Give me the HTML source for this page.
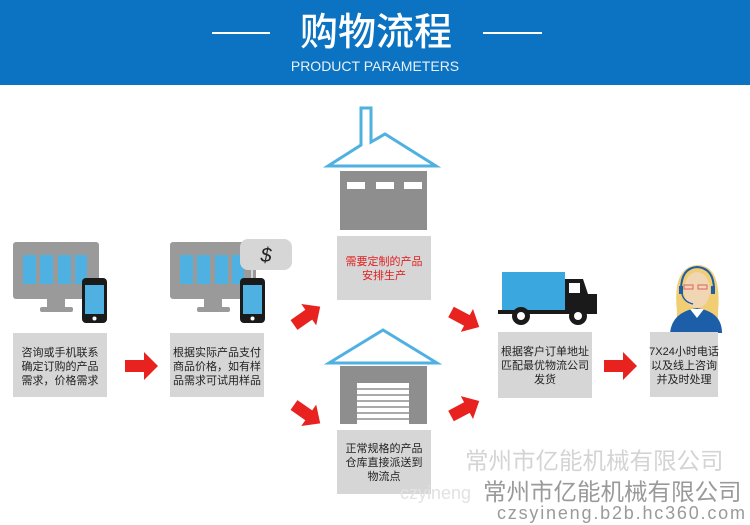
<!DOCTYPE html>
<html><head><meta charset="utf-8"><style>
body{margin:0;background:#fff;}
svg{display:block}
text{font-family:"Liberation Sans","Noto Sans CJK SC",sans-serif;}
.c{font-family:"Liberation Sans","Noto Sans CJK SC",sans-serif;font-size:11px;fill:#222;text-anchor:middle}
</style></head><body>
<svg width="750" height="525" viewBox="0 0 750 525" xmlns="http://www.w3.org/2000/svg">
<rect x="0" y="0" width="750" height="85" fill="#0b73c1"/>
<rect x="212" y="32" width="58" height="2" fill="#fff"/>
<rect x="483" y="32" width="59" height="2" fill="#fff"/>
<text x="376" y="45" font-size="38" fill="#fff" text-anchor="middle" font-weight="500" style="font-family:'Noto Sans CJK SC',sans-serif">购物流程</text>
<text x="375" y="71" font-size="14" fill="#e8f0f8" text-anchor="middle">PRODUCT PARAMETERS</text>

<!-- monitor 1 -->
<g>
<rect x="13" y="242" width="86" height="57" rx="3" fill="#9a9a9a"/>
<rect x="23" y="255" width="13" height="29" fill="#4fb0e2"/><rect x="40" y="255" width="13" height="29" fill="#4fb0e2"/><rect x="58" y="255" width="13" height="29" fill="#4fb0e2"/><rect x="75" y="255" width="12" height="29" fill="#4fb0e2"/>
<rect x="47" y="299" width="18" height="10" fill="#9a9a9a"/><rect x="40" y="307" width="33" height="5" rx="2" fill="#9a9a9a"/>
<rect x="82" y="278" width="25" height="45" rx="4" fill="#1a1a1a"/>
<rect x="85" y="285" width="19" height="29" fill="#4fb0e2"/><circle cx="94.5" cy="318.5" r="2" fill="#fff"/>
</g>
<!-- monitor 2 -->
<g>
<rect x="170" y="242" width="86" height="57" rx="3" fill="#9a9a9a"/>
<rect x="180" y="255" width="13" height="29" fill="#4fb0e2"/><rect x="197" y="255" width="13" height="29" fill="#4fb0e2"/><rect x="215" y="255" width="13" height="29" fill="#4fb0e2"/><rect x="232" y="255" width="12" height="29" fill="#4fb0e2"/>
<rect x="204" y="299" width="18" height="10" fill="#9a9a9a"/><rect x="197" y="307" width="33" height="5" rx="2" fill="#9a9a9a"/>
<rect x="240" y="239" width="52" height="31" rx="8" fill="#d6d6d6"/>
<text x="266" y="262" font-size="20" fill="#222" text-anchor="middle" font-style="italic">$</text>
<line x1="252" y1="270" x2="252" y2="279" stroke="#d6d6d6" stroke-width="2"/>
<rect x="240" y="278" width="25" height="45" rx="4" fill="#1a1a1a"/>
<rect x="243" y="285" width="19" height="29" fill="#4fb0e2"/><circle cx="252.5" cy="318.5" r="2" fill="#fff"/>
</g>

<!-- factory -->
<path d="M361 108 H371 V142 L385 134 L436 166 H328 L361 145 Z" fill="none" stroke="#4fb0e2" stroke-width="3"/>
<rect x="340" y="171" width="87" height="59" fill="#8e8e8e"/>
<rect x="347" y="182" width="18" height="7" fill="#fff"/><rect x="376" y="182" width="18" height="7" fill="#fff"/><rect x="404" y="182" width="18" height="7" fill="#fff"/>
<!-- warehouse -->
<path d="M329 363 L383 330 L437 363 Z" fill="none" stroke="#4fb0e2" stroke-width="3"/>
<rect x="340" y="366" width="87" height="58" fill="#8e8e8e"/>
<rect x="357" y="383" width="52" height="41" fill="#fff"/>
<g stroke="#8e8e8e" stroke-width="1.6"><line x1="357" y1="389" x2="409" y2="389"/><line x1="357" y1="395" x2="409" y2="395"/><line x1="357" y1="401" x2="409" y2="401"/><line x1="357" y1="407" x2="409" y2="407"/><line x1="357" y1="413" x2="409" y2="413"/><line x1="357" y1="419" x2="409" y2="419"/></g>

<!-- truck -->
<rect x="502" y="272" width="63" height="40" fill="#3aa8de"/>
<path d="M565 279 H583 L588 294 H597 V312 H565 Z" fill="#1a1a1a"/>
<rect x="569" y="283" width="11" height="10" fill="#fff"/>
<rect x="498" y="310" width="99" height="4" fill="#1a1a1a"/>
<circle cx="521" cy="316" r="9" fill="#1a1a1a"/><circle cx="521" cy="316" r="4" fill="#fff"/>
<circle cx="578" cy="316" r="9" fill="#1a1a1a"/><circle cx="578" cy="316" r="4" fill="#fff"/>

<!-- person -->
<path d="M677 312 Q672 266 698 265 Q722 266 718 312 L718 330 H676 Z" fill="#f1cd74"/>
<ellipse cx="697" cy="290" rx="13" ry="18" fill="#f0d6b3"/>
<path d="M670 333 Q672 312 697 308 Q722 312 722 333 Z" fill="#1d5ea8"/>
<path d="M690 309 L697 318 L704 309 Z" fill="#fff"/>
<path d="M681 290 Q681 268 697 267 Q714 268 714 290" fill="none" stroke="#1d5ea8" stroke-width="2"/>
<rect x="679" y="286" width="4" height="8" fill="#1d5ea8"/><rect x="711" y="286" width="4" height="8" fill="#1d5ea8"/>
<path d="M682 294 Q684 302 693 304" fill="none" stroke="#1d5ea8" stroke-width="1.5"/>
<rect x="684" y="285" width="9" height="4" fill="none" stroke="#e06060" stroke-width="1"/><rect x="698" y="285" width="9" height="4" fill="none" stroke="#e06060" stroke-width="1"/>

<!-- boxes -->
<rect x="13" y="333" width="94" height="64" fill="#d6d6d6"/>
<text class="c" x="60" y="356">咨询或手机联系</text><text class="c" x="60" y="370">确定订购的产品</text><text class="c" x="60" y="384">需求，价格需求</text>
<rect x="170" y="333" width="94" height="64" fill="#d6d6d6"/>
<text class="c" x="217" y="356">根据实际产品支付</text><text class="c" x="217" y="370">商品价格，如有样</text><text class="c" x="217" y="384">品需求可试用样品</text>
<rect x="337" y="236" width="94" height="64" fill="#d6d6d6"/>
<text class="c" x="384" y="265" style="fill:#e02020">需要定制的产品</text><text class="c" x="384" y="279" style="fill:#e02020">安排生产</text>
<rect x="337" y="430" width="94" height="64" fill="#d6d6d6"/>
<text class="c" x="384" y="452">正常规格的产品</text><text class="c" x="384" y="466">仓库直接派送到</text><text class="c" x="384" y="480">物流点</text>
<rect x="498" y="332" width="94" height="66" fill="#d6d6d6"/>
<text class="c" x="545" y="355">根据客户订单地址</text><text class="c" x="545" y="369">匹配最优物流公司</text><text class="c" x="545" y="383">发货</text>
<rect x="650" y="332" width="68" height="65" fill="#d6d6d6"/>
<text class="c" x="684" y="355">7X24小时电话</text><text class="c" x="684" y="369">以及线上咨询</text><text class="c" x="684" y="383">并及时处理</text>

<!-- arrows -->
<g fill="#e8231f">
<path d="M125 360 H144 V352 L158 366 L144 380 V372 H125 Z"/>
<path d="M604 360 H623 V352 L637 366 L623 380 V372 H604 Z"/>
<path d="M0 -6 H18 V-13 L32 0 L18 13 V6 H0 Z" transform="translate(294 325) rotate(-35)"/>
<path d="M0 -6 H18 V-13 L32 0 L18 13 V6 H0 Z" transform="translate(294 405) rotate(35)"/>
<path d="M0 -6 H18 V-13 L32 0 L18 13 V6 H0 Z" transform="translate(451 312) rotate(28)"/>
<path d="M0 -6 H18 V-13 L32 0 L18 13 V6 H0 Z" transform="translate(451 416) rotate(-28)"/>
</g>

<!-- watermarks -->
<text x="465" y="469" font-size="23.5" fill="#d4d4d4" style="font-family:'Noto Sans CJK SC',sans-serif">常州市亿能机械有限公司</text>
<text x="400" y="499" font-size="18" fill="#e2e2e2">czyineng</text>
<text x="483" y="500" font-size="23.5" fill="#9a9a9a" style="font-family:'Noto Sans CJK SC',sans-serif">常州市亿能机械有限公司</text>
<text x="497" y="519" font-size="18" fill="#9a9a9a" textLength="248">czsyineng.b2b.hc360.com</text>
</svg>
</body></html>
